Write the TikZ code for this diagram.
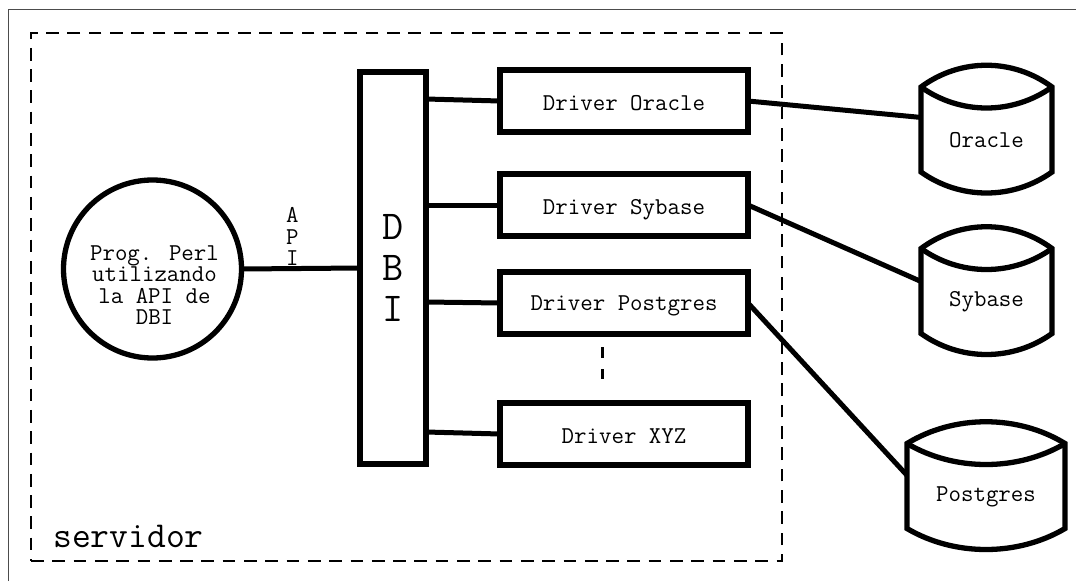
\documentclass[tikz,border=0pt]{standalone}
\usepackage{fontspec}
\usetikzlibrary{positioning}

\newcommand{\dbcyl}[4]{%
  \node[dbbody, minimum width=#2pt] (#1) at (#3) {#4};
  \coordinate (#1tl) at ([yshift=21pt]#1.north west);
  \coordinate (#1tr) at ([yshift=21pt]#1.north east);
  \draw[dbline] (#1.south west) -- (#1tl)
    .. controls +(0.3*#2,-29) and +(-0.3*#2,-29) .. (#1tr) -- (#1.south east)
    .. controls +(-0.3*#2,28) and +(0.3*#2,28) .. (#1.south west) -- cycle;
  \draw[dbline] (#1tl) .. controls +(0.3*#2,28) and +(-0.3*#2,28) .. (#1tr);
}

\begin{document}
\begin{tikzpicture}[
    x=1pt, y=-1pt,
    every node/.style={outer sep=0pt, inner sep=0pt},
    drvbox/.style={draw, line width=5.3pt, minimum width=248pt, minimum height=62pt,
      text height=18pt, text depth=0pt, font=\ttfamily\fontsize{24.2}{21.5}\selectfont},
    dbbody/.style={minimum height=64pt, font=\ttfamily\fontsize{24.2}{21.5}\selectfont},
    dbline/.style={line width=5.3pt, line join=miter},
    conn/.style={line width=5pt},
    dashln/.style={line width=2.5pt, dash pattern=on 12.7pt off 8.6pt},
    txt/.style={align=center, font=\ttfamily\fontsize{24.2}{21.5}\selectfont}]
  \useasboundingbox (0,0) rectangle (1076,581);
  \draw[line width=1pt, black!70] (8.5,581) -- (8.5,9) -- (1076,9);
  \draw[dashln] (31,561) -- (782,561) -- (782,33) -- (31,33) -- cycle;
  \node[font=\ttfamily\fontsize{36.5}{36}\selectfont] (serv) at (128.5,536) {servidor};

  \node[draw, circle, line width=5.3pt, minimum size=178pt] (prog) at (152.5,269) {};
  \node[txt] (progtxt) at ([xshift=2pt,yshift=-16pt]prog.center) {Prog. Perl\\utilizando\\la API de~\\DBI};
  \node[draw, line width=5.3pt, minimum width=66pt, minimum height=392pt, align=center,
    font=\ttfamily\fontsize{41}{41}\selectfont] (dbi) at (393,268) {D\\B\\I};

  \node[drvbox] (drvora) at (624,101) {Driver Oracle};
  \node[drvbox, below=42pt of drvora] (drvsyb) {Driver Sybase};
  \node[drvbox, text height=14pt, below=36pt of drvsyb] (drvpg) {Driver Postgres};
  \node[drvbox, below=69pt of drvpg] (drvxyz) {Driver XYZ};

  \dbcyl{dbora}{131}{986.5,140}{Oracle}
  \dbcyl{dbsyb}{131}{986.5,301.5}{Sybase}
  \dbcyl{dbpg}{158}{986,496.5}{Postgres}

  \draw[conn] (prog.east) -- node[pos=0.43, above=3pt, txt] (apilbl) {A\\P\\I} (dbi.west);
  \draw[conn] ([yshift=169pt]dbi.east) -- (drvora.west);
  \draw[conn] ([yshift=63pt]dbi.east) -- (drvsyb.west);
  \draw[conn] ([yshift=-34pt]dbi.east) -- (drvpg.west);
  \draw[conn] ([yshift=-164pt]dbi.east) -- (drvxyz.west);
  \draw[conn] (drvora.east) -- (dbora.161);
  \draw[conn] (drvsyb.east) -- (dbsyb.163);
  \draw[conn] (drvpg.east) -- (dbpg.165);

  \coordinate (dotsa) at (602,347);
  \coordinate (dotsb) at (602,379);
  \draw[line width=3pt, dash pattern=on 11pt off 11pt] (dotsa) -- (dotsb);
\end{tikzpicture}
\end{document}
